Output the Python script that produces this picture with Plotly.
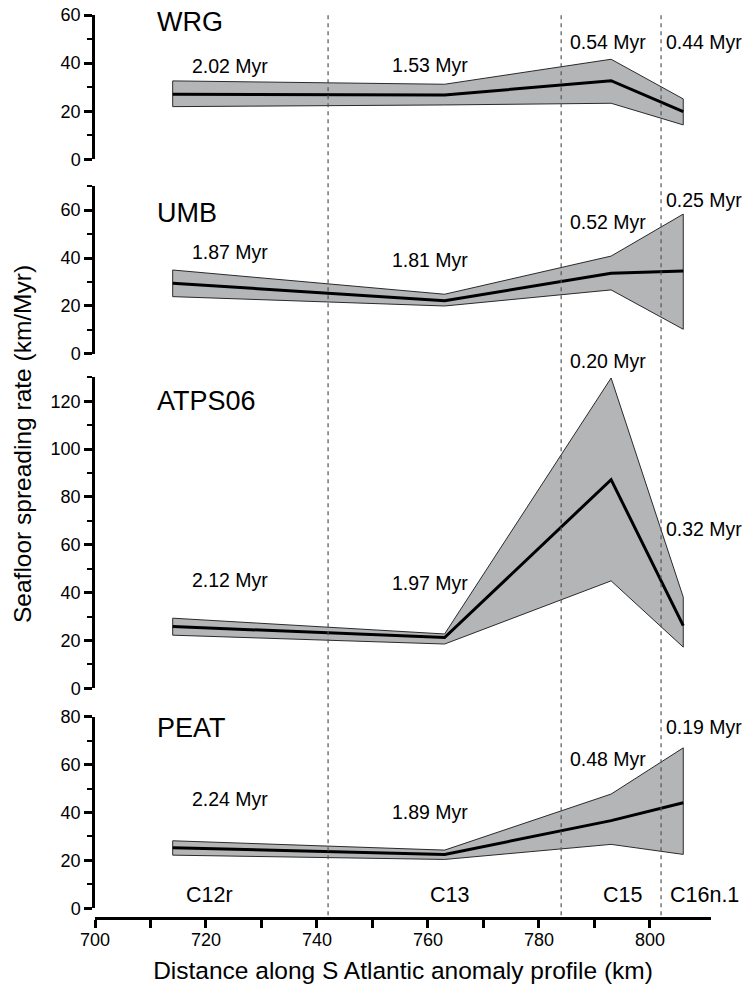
import plotly.graph_objects as go

# ---- data ----
distance_km = [714, 763, 793, 806]

wrg_mid = [27.0, 26.7, 32.7, 19.8]
wrg_hi = [32.6, 31.2, 41.6, 25.1]
wrg_lo = [21.9, 22.6, 23.3, 14.3]

umb_mid = [29.5, 22.2, 33.6, 34.6]
umb_hi = [35.0, 24.9, 40.8, 58.3]
umb_lo = [23.9, 20.0, 26.7, 10.3]

atps_mid = [25.8, 21.2, 87.2, 26.2]
atps_hi = [29.3, 22.7, 129.7, 38.1]
atps_lo = [22.2, 18.5, 44.9, 17.2]

peat_mid = [25.3, 22.5, 36.6, 44.1]
peat_hi = [28.2, 24.3, 47.7, 67.0]
peat_lo = [22.2, 20.4, 26.7, 22.5]

panel_names = ["WRG", "UMB", "ATPS06", "PEAT"]

wrg_durations = ["2.02 Myr", "1.53 Myr", "0.54 Myr", "0.44 Myr"]
umb_durations = ["1.87 Myr", "1.81 Myr", "0.52 Myr", "0.25 Myr"]
atps_durations = ["2.12 Myr", "1.97 Myr", "0.20 Myr", "0.32 Myr"]
peat_durations = ["2.24 Myr", "1.89 Myr", "0.48 Myr", "0.19 Myr"]

anomaly_names = ["C12r", "C13", "C15", "C16n.1"]
anomaly_boundaries_km = [742, 784, 802]

x_ticks = [700, 710, 720, 730, 740, 750, 760, 770, 780, 790, 800]

# ---- layout helpers (positions) ----
dur_label_x = [724.4, 760.4, 792.5, 809.8]
wrg_dur_y = [38.9, 39.2, 48.9, 48.9]
umb_dur_y = [42.6, 39.2, 55.1, 64.2]
atps_dur_y = [45.3, 44.2, 136.7, 66.5]
peat_dur_y = [45.5, 40.3, 62.3, 75.8]
anomaly_label_x = [720.7, 763.8, 795.0, 809.8]
anomaly_label_y = 5.5

panels = [
    dict(mid=wrg_mid, hi=wrg_hi, lo=wrg_lo, dur=wrg_durations, dy=wrg_dur_y,
         yref="y", rng=[0, 60], ticks=[0, 20, 40, 60], dom=[0.8402, 1.0], ty=57.1),
    dict(mid=umb_mid, hi=umb_hi, lo=umb_lo, dur=umb_durations, dy=umb_dur_y,
         yref="y2", rng=[0, 70], ticks=[0, 20, 40, 60], dom=[0.6246, 0.8106], ty=58.6),
    dict(mid=atps_mid, hi=atps_hi, lo=atps_lo, dur=atps_durations, dy=atps_dur_y,
         yref="y3", rng=[0, 130], ticks=[0, 20, 40, 60, 80, 100, 120], dom=[0.2544, 0.5988], ty=120.0),
    dict(mid=peat_mid, hi=peat_hi, lo=peat_lo, dur=peat_durations, dy=peat_dur_y,
         yref="y4", rng=[0, 80], ticks=[0, 20, 40, 60, 80], dom=[0.01074, 0.2229], ty=75.5),
]

FONT = "Arial, Liberation Sans, Helvetica, sans-serif"
FILL = "#b4b5b7"

FIG_W, FIG_H = 746, 988
ML, MR, MT, MB = 95, 35, 15, 70
PW = FIG_W - ML - MR
PH = FIG_H - MT - MB

fig = go.Figure()
annotations = []

for i, p in enumerate(panels):
    ya = p["yref"]
    fig.add_trace(go.Scatter(
        x=distance_km + distance_km[::-1] + [distance_km[0]],
        y=p["hi"] + p["lo"][::-1] + [p["hi"][0]],
        fill="toself", fillcolor=FILL, mode="lines",
        line=dict(color="#2a2a2a", width=1), yaxis=ya, hoverinfo="skip",
        showlegend=False))
    fig.add_trace(go.Scatter(
        x=distance_km, y=p["mid"], mode="lines",
        line=dict(color="black", width=3), yaxis=ya, showlegend=False))
    annotations.append(dict(x=710.8, y=p["ty"], xref="x", yref=ya, text=panel_names[i],
                            showarrow=False, xanchor="left", yanchor="middle",
                            font=dict(size=27, color="black", family=FONT)))
    rmax = p["rng"][1]
    d0, d1 = p["dom"]
    for lx, ly, t in zip(dur_label_x, p["dy"], p["dur"]):
        if ly > rmax:
            # label above the panel's axis range: place in paper coordinates
            yref_, yval = "paper", d0 + ly / rmax * (d1 - d0)
        else:
            yref_, yval = ya, ly
        annotations.append(dict(x=lx, y=yval, xref="x", yref=yref_, text=t, showarrow=False,
                                xanchor="center", yanchor="middle",
                                font=dict(size=19.5, color="black", family=FONT)))

for lx, t in zip(anomaly_label_x, anomaly_names):
    annotations.append(dict(x=lx, y=anomaly_label_y, xref="x", yref="y4", text=t,
                            showarrow=False, xanchor="center", yanchor="middle",
                            font=dict(size=21.5, color="black", family=FONT)))

# y title (page px x=22, y=444)
annotations.append(dict(x=(22 - ML) / PW, y=(MT + PH - 444) / PH,
                        xref="paper", yref="paper", text="Seafloor spreading rate (km/Myr)",
                        showarrow=False, textangle=-90, xanchor="center", yanchor="middle",
                        font=dict(size=24.5, color="black", family=FONT)))

shapes = []
for b in anomaly_boundaries_km:
    shapes.append(dict(type="line", xref="x", yref="paper", x0=b, x1=b, y0=0.003, y1=1.0,
                       line=dict(color="#555555", width=1.2, dash="4px,4px"), layer="above"))

layout = dict(
    width=FIG_W, height=FIG_H,
    paper_bgcolor="white", plot_bgcolor="white",
    margin=dict(l=ML, r=MR, t=MT, b=MB, pad=0),
    font=dict(family=FONT, color="black"),
    showlegend=False,
    xaxis=dict(range=[700, 811], anchor="free", position=0, showgrid=False, zeroline=False,
               automargin=False,
               showline=True, linecolor="black", linewidth=2.5,
               tickmode="array", tickvals=x_ticks,
               ticktext=[str(v) if v % 20 == 0 else "" for v in x_ticks],
               ticks="outside", ticklen=8, tickwidth=2.5, tickcolor="black",
               ticklabelstandoff=-3, ticklabeloverflow="allow",
               tickfont=dict(size=18, family=FONT),
               title=dict(text="Distance along S Atlantic anomaly profile (km)",
                          font=dict(size=24.5, family=FONT), standoff=12)),
)

for i, p in enumerate(panels):
    key = "yaxis" if i == 0 else f"yaxis{i+1}"
    layout[key] = dict(domain=p["dom"], range=p["rng"], anchor="x", showgrid=False, zeroline=False,
                       automargin=False, ticklabeloverflow="allow",
                       showline=True, linecolor="black", linewidth=2.5,
                       tickmode="array", tickvals=p["ticks"],
                       ticks="outside", ticklen=8, tickwidth=2.5, tickcolor="black",
                       tickfont=dict(size=18, family=FONT),
                       minor=dict(dtick=10, tick0=0, ticks="outside", ticklen=5, tickwidth=2,
                                  tickcolor="black", showgrid=False))

layout["annotations"] = annotations
layout["shapes"] = shapes
fig.update_layout(**layout)

fig.write_html("out.html", config={"displayModeBar": False},
               post_script="document.body.style.margin='0';")
